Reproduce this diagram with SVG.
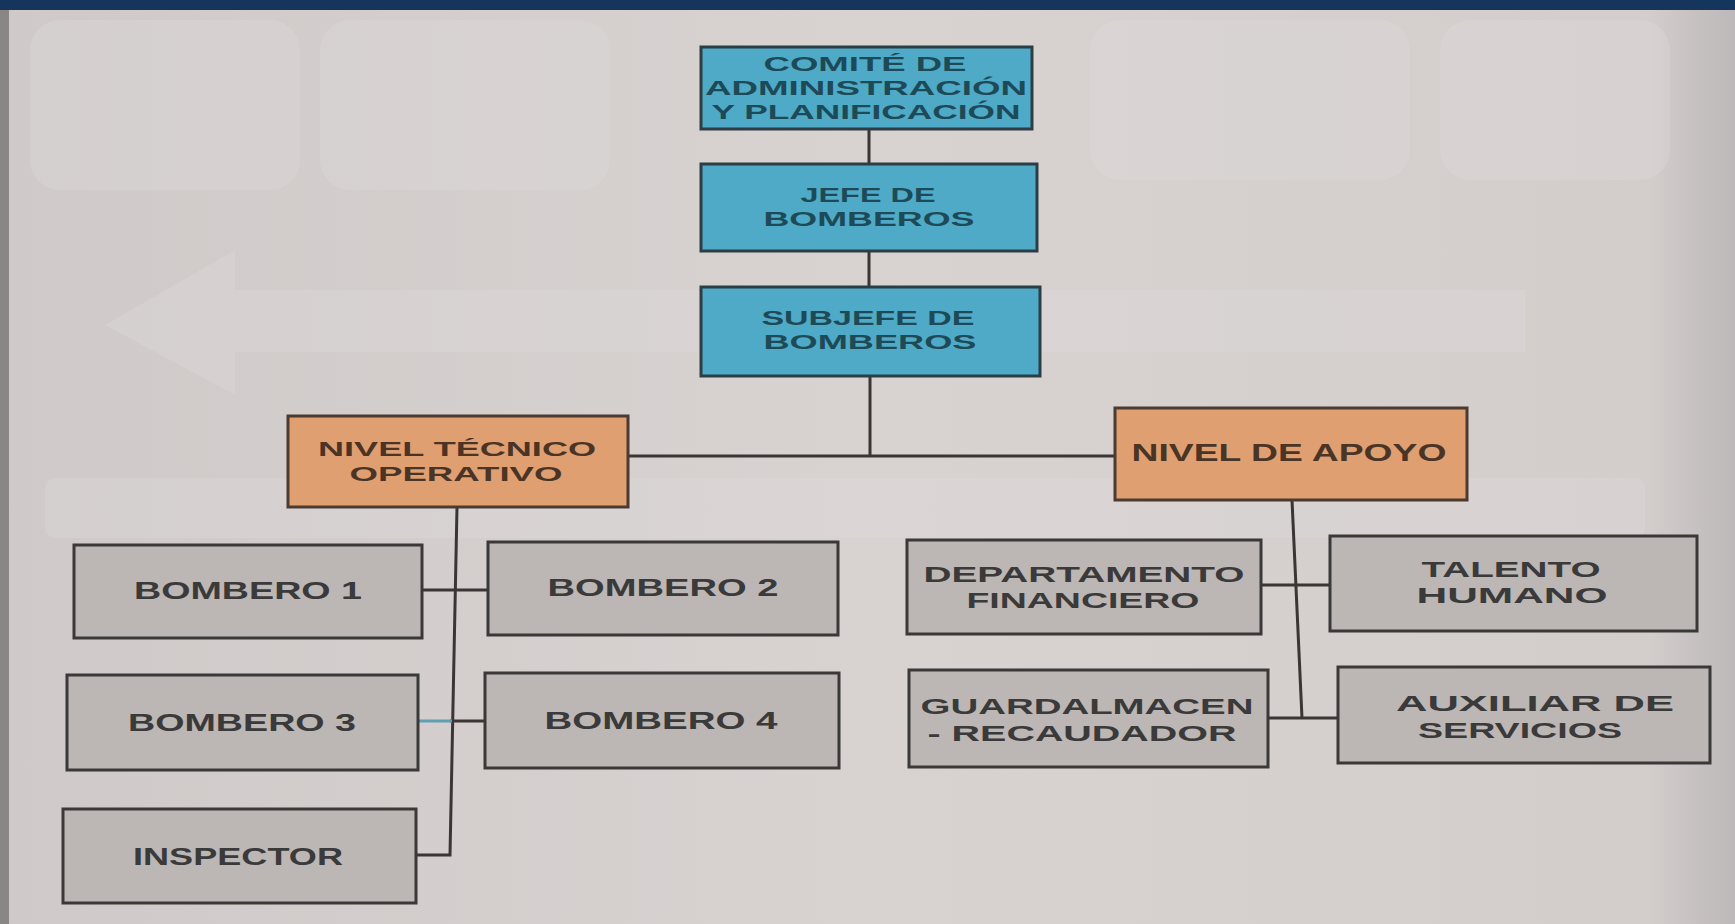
<svg xmlns="http://www.w3.org/2000/svg" width="1735" height="924" viewBox="0 0 1735 924">
<defs>
<linearGradient id="bg" x1="0" y1="0" x2="1" y2="0">
<stop offset="0" stop-color="#cfc9c9"/>
<stop offset="0.5" stop-color="#d8d2d1"/>
<stop offset="0.95" stop-color="#d3cdcc"/>
<stop offset="1" stop-color="#bdb8b9"/>
</linearGradient>
<style>
.blue{fill:#4eaac6;stroke:#2c3e44;stroke-width:3}
.orange{fill:#e09f70;stroke:#4a3a30;stroke-width:3}
.gray{fill:#bcb6b5;stroke:#3a3838;stroke-width:3}
.t{font-family:"Liberation Sans","Open Sans",sans-serif;font-weight:700;text-anchor:middle}
.tb{fill:#1d4a56;font-size:20px}
.to{fill:#4a3426;font-size:21px}
.tg{fill:#3a3a3a;font-size:22px}
.ts{font-size:23px}
.c{fill:none;stroke:#3a3636;stroke-width:3}
.ghost{fill:#e2dedd;opacity:0.3}
</style>
</defs>
<rect x="0" y="0" width="1735" height="924" fill="url(#bg)"/>
<rect x="0" y="10" width="9" height="914" fill="#8a8686"/>
<g id="background-shapes">
<rect class="ghost" x="30" y="20" width="270" height="170" rx="30"/>
<rect class="ghost" x="320" y="20" width="290" height="170" rx="30"/>
<rect class="ghost" x="1090" y="20" width="320" height="160" rx="30"/>
<rect class="ghost" x="1440" y="20" width="230" height="160" rx="30"/>
<path class="ghost" d="M105 325 L235 250 L235 290 L1525 290 L1525 352 L235 352 L235 395 Z"/>
<rect class="ghost" x="45" y="478" width="1600" height="60" rx="10"/>
</g>
<rect x="0" y="0" width="1735" height="10" fill="#16355c"/>
<g id="connectors">
<path class="c" d="M869 129 V164 M869 251 V287 M870 376 V456 M628 456 H1115"/>
<path class="c" d="M457 507 L450 855 H416 M422 590 H488 M450 721 H485"/>
<path d="M418 721 H452" fill="none" stroke="#5f9fb3" stroke-width="3"/>
<path class="c" d="M1292 500 L1302 718 M1261 585 H1330 M1268 718 H1338"/>
</g>
<g id="comite">
<rect class="blue" x="701" y="47" width="331" height="82"/>
<text class="t tb" x="865" y="71" textLength="203" lengthAdjust="spacingAndGlyphs">COMITÉ DE</text>
<text class="t tb" x="866" y="95" textLength="322" lengthAdjust="spacingAndGlyphs">ADMINISTRACIÓN</text>
<text class="t tb" x="866" y="119" textLength="309" lengthAdjust="spacingAndGlyphs">Y PLANIFICACIÓN</text>
</g>
<g id="jefe">
<rect class="blue" x="701" y="164" width="336" height="87"/>
<text class="t tb" x="868" y="202" textLength="135" lengthAdjust="spacingAndGlyphs">JEFE DE</text>
<text class="t tb" x="869" y="226" textLength="211" lengthAdjust="spacingAndGlyphs">BOMBEROS</text>
</g>
<g id="subjefe">
<rect class="blue" x="701" y="287" width="339" height="89"/>
<text class="t tb" x="868" y="325" textLength="213" lengthAdjust="spacingAndGlyphs">SUBJEFE DE</text>
<text class="t tb" x="870" y="349" textLength="213" lengthAdjust="spacingAndGlyphs">BOMBEROS</text>
</g>
<g id="nivel-tecnico">
<rect class="orange" x="288" y="416" width="340" height="91"/>
<text class="t to" x="457" y="456" textLength="278" lengthAdjust="spacingAndGlyphs">NIVEL TÉCNICO</text>
<text class="t to" x="456" y="481" textLength="213" lengthAdjust="spacingAndGlyphs">OPERATIVO</text>
</g>
<g id="nivel-apoyo">
<rect class="orange" x="1115" y="408" width="352" height="92"/>
<text class="t to ts" x="1289" y="461" textLength="315" lengthAdjust="spacingAndGlyphs">NIVEL DE APOYO</text>
</g>
<g id="bombero1">
<rect class="gray" x="74" y="545" width="348" height="93"/>
<text class="t tg ts" x="248" y="599" textLength="228" lengthAdjust="spacingAndGlyphs">BOMBERO 1</text>
</g>
<g id="bombero2">
<rect class="gray" x="488" y="542" width="350" height="93"/>
<text class="t tg ts" x="663" y="596" textLength="231" lengthAdjust="spacingAndGlyphs">BOMBERO 2</text>
</g>
<g id="bombero3">
<rect class="gray" x="67" y="675" width="351" height="95"/>
<text class="t tg ts" x="242" y="731" textLength="228" lengthAdjust="spacingAndGlyphs">BOMBERO 3</text>
</g>
<g id="bombero4">
<rect class="gray" x="485" y="673" width="354" height="95"/>
<text class="t tg ts" x="661" y="729" textLength="233" lengthAdjust="spacingAndGlyphs">BOMBERO 4</text>
</g>
<g id="inspector">
<rect class="gray" x="63" y="809" width="353" height="94"/>
<text class="t tg ts" x="238" y="865" textLength="210" lengthAdjust="spacingAndGlyphs">INSPECTOR</text>
</g>
<g id="departamento-financiero">
<rect class="gray" x="907" y="540" width="354" height="94"/>
<text class="t tg" x="1084" y="582" textLength="321" lengthAdjust="spacingAndGlyphs">DEPARTAMENTO</text>
<text class="t tg" x="1083" y="608" textLength="233" lengthAdjust="spacingAndGlyphs">FINANCIERO</text>
</g>
<g id="talento-humano">
<rect class="gray" x="1330" y="536" width="367" height="95"/>
<text class="t tg" x="1511" y="577" textLength="179" lengthAdjust="spacingAndGlyphs">TALENTO</text>
<text class="t tg" x="1512" y="603" textLength="191" lengthAdjust="spacingAndGlyphs">HUMANO</text>
</g>
<g id="guardalmacen">
<rect class="gray" x="909" y="670" width="359" height="97"/>
<text class="t tg" x="1087" y="714" textLength="333" lengthAdjust="spacingAndGlyphs">GUARDALMACEN</text>
<text class="t tg" x="1082" y="741" textLength="309" lengthAdjust="spacingAndGlyphs">- RECAUDADOR</text>
</g>
<g id="auxiliar-servicios">
<rect class="gray" x="1338" y="667" width="372" height="96"/>
<text class="t tg" x="1535" y="711" textLength="278" lengthAdjust="spacingAndGlyphs">AUXILIAR DE</text>
<text class="t tg" x="1520" y="738" textLength="204" lengthAdjust="spacingAndGlyphs">SERVICIOS</text>
</g>
</svg>
